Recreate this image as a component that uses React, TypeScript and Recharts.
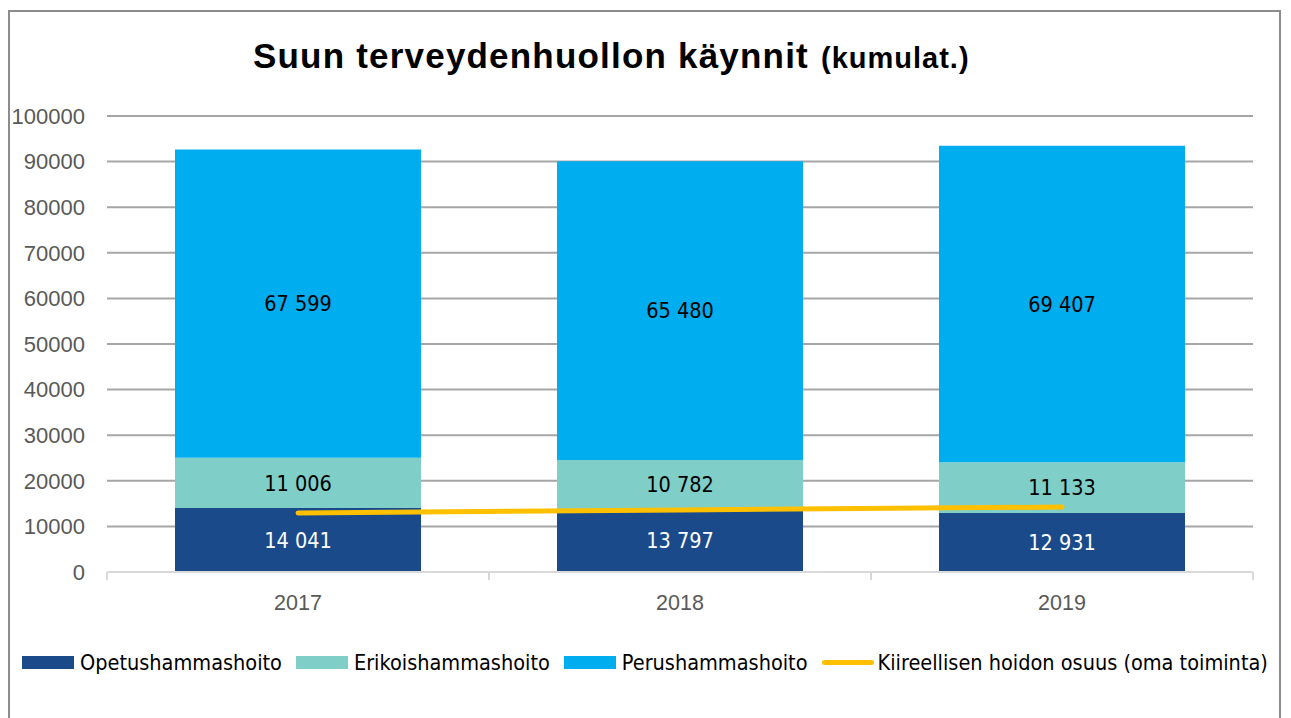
import React from "react";
import { ComposedChart, Bar, Line, XAxis, YAxis, CartesianGrid, LabelList } from "recharts";

const years = ["2017", "2018", "2019"];
const opetus = [14041, 13797, 12931];
const erikois = [11006, 10782, 11133];
const perus = [67599, 65480, 69407];
const kiire = [12940, 13600, 14250];
const yTicks = [0, 10000, 20000, 30000, 40000, 50000, 60000, 70000, 80000, 90000, 100000];

const COLORS = { opetus: "#1a4a89", erikois: "#7fcec8", perus: "#00adef", kiire: "#ffc000" };
const NARROW = "'DejaVu Sans Condensed', 'Liberation Sans Narrow', sans-serif";
const SANS = "'Liberation Sans', Arial, sans-serif";

const data = years.map((y, i) => ({
  year: y,
  opetus: opetus[i],
  erikois: erikois[i],
  perus: perus[i],
  kiire: kiire[i],
}));

const fmt = (v: any) => {
  const n = Number(v);
  return String(Math.round(n)).replace(/\B(?=(\d{3})+(?!\d))/g, " ");
};

const XTick = (props: any) => {
  const { x, y, payload, index } = props;
  const off = payload && payload.offset ? payload.offset : 0;
  return (
    <g>
      <line x1={x - off} x2={x - off} y1={y} y2={y + 8} stroke="#d9d9d9" strokeWidth={2} />
      {index === years.length - 1 && (
        <line x1={x + off} x2={x + off} y1={y} y2={y + 8} stroke="#d9d9d9" strokeWidth={2} />
      )}
      <text x={x} y={y + 38} textAnchor="middle" fill="#595959" fontSize={21.5} fontFamily={SANS}>
        {payload.value}
      </text>
    </g>
  );
};

const legendItems = [
  { label: "Opetushammashoito", color: COLORS.opetus, type: "rect" },
  { label: "Erikoishammashoito", color: COLORS.erikois, type: "rect" },
  { label: "Perushammashoito", color: COLORS.perus, type: "rect" },
  { label: "Kiireellisen hoidon osuus (oma toiminta)", color: COLORS.kiire, type: "line" },
];

export default function App() {
  return (
    <div style={{ position: "absolute", left: 0, top: 0, width: 1291, height: 718, background: "#fff", overflow: "hidden" }}>
      <div
        style={{
          position: "absolute",
          left: 8,
          top: 10,
          width: 1273,
          height: 730,
          border: "2px solid #8c8c8c",
          boxSizing: "border-box",
        }}
      />
      <div
        style={{
          position: "absolute",
          left: 253,
          top: 36,
          whiteSpace: "nowrap",
          fontFamily: SANS,
          fontWeight: "bold",
          color: "#000",
        }}
      >
        <span style={{ fontSize: 35, letterSpacing: 1.2 }}>Suun terveydenhuollon käynnit</span>
        <span style={{ fontSize: 29, letterSpacing: 1, marginLeft: 12 }}>(kumulat.)</span>
      </div>
      <div style={{ position: "absolute", left: 0, top: 0 }}>
        <ComposedChart
          width={1291}
          height={718}
          data={data}
          margin={{ top: 116, right: 38, bottom: 106, left: 0 }}
        >
          <CartesianGrid vertical={false} stroke="#a6a6a6" strokeWidth={2} />
          <XAxis
            dataKey="year"
            height={40}
            axisLine={{ stroke: "#d9d9d9", strokeWidth: 2 }}
            tickLine={false}
            tickSize={0}
            tickMargin={0}
            tick={<XTick />}
            interval={0}
          />
          <YAxis
            width={107}
            domain={[0, 100000]}
            ticks={yTicks}
            interval={0}
            axisLine={false}
            tickLine={false}
            tickMargin={16}
            tick={{ fill: "#595959", fontSize: 22, fontFamily: SANS }}
          />
          <Bar dataKey="opetus" stackId="a" fill={COLORS.opetus} barSize={246} isAnimationActive={false}>
            <LabelList dataKey="opetus" position="center" formatter={fmt} fill="#ffffff" fontSize={21.5} fontFamily={NARROW} />
          </Bar>
          <Bar dataKey="erikois" stackId="a" fill={COLORS.erikois} barSize={246} isAnimationActive={false}>
            <LabelList dataKey="erikois" position="center" formatter={fmt} fill="#000000" fontSize={21.5} fontFamily={NARROW} />
          </Bar>
          <Bar dataKey="perus" stackId="a" fill={COLORS.perus} barSize={246} isAnimationActive={false}>
            <LabelList dataKey="perus" position="center" formatter={fmt} fill="#000000" fontSize={21.5} fontFamily={NARROW} />
          </Bar>
          <Line
            dataKey="kiire"
            type="linear"
            stroke={COLORS.kiire}
            strokeWidth={5}
            strokeLinecap="round"
            dot={false}
            activeDot={false}
            isAnimationActive={false}
          />
        </ComposedChart>
      </div>
      <div
        style={{
          position: "absolute",
          left: 22,
          top: 648,
          height: 28,
          display: "flex",
          alignItems: "center",
          whiteSpace: "nowrap",
          fontFamily: NARROW,
          fontSize: 21.5,
          color: "#000",
        }}
      >
        {legendItems.map((it) => (
          <div key={it.label} style={{ display: "flex", alignItems: "center", marginRight: 14 }}>
            {it.type === "rect" ? (
              <div style={{ width: 52, height: 13, background: it.color, marginRight: 6 }} />
            ) : (
              <div style={{ width: 52, height: 5, background: it.color, borderRadius: 3, marginRight: 4 }} />
            )}
            <span>{it.label}</span>
          </div>
        ))}
      </div>
    </div>
  );
}
